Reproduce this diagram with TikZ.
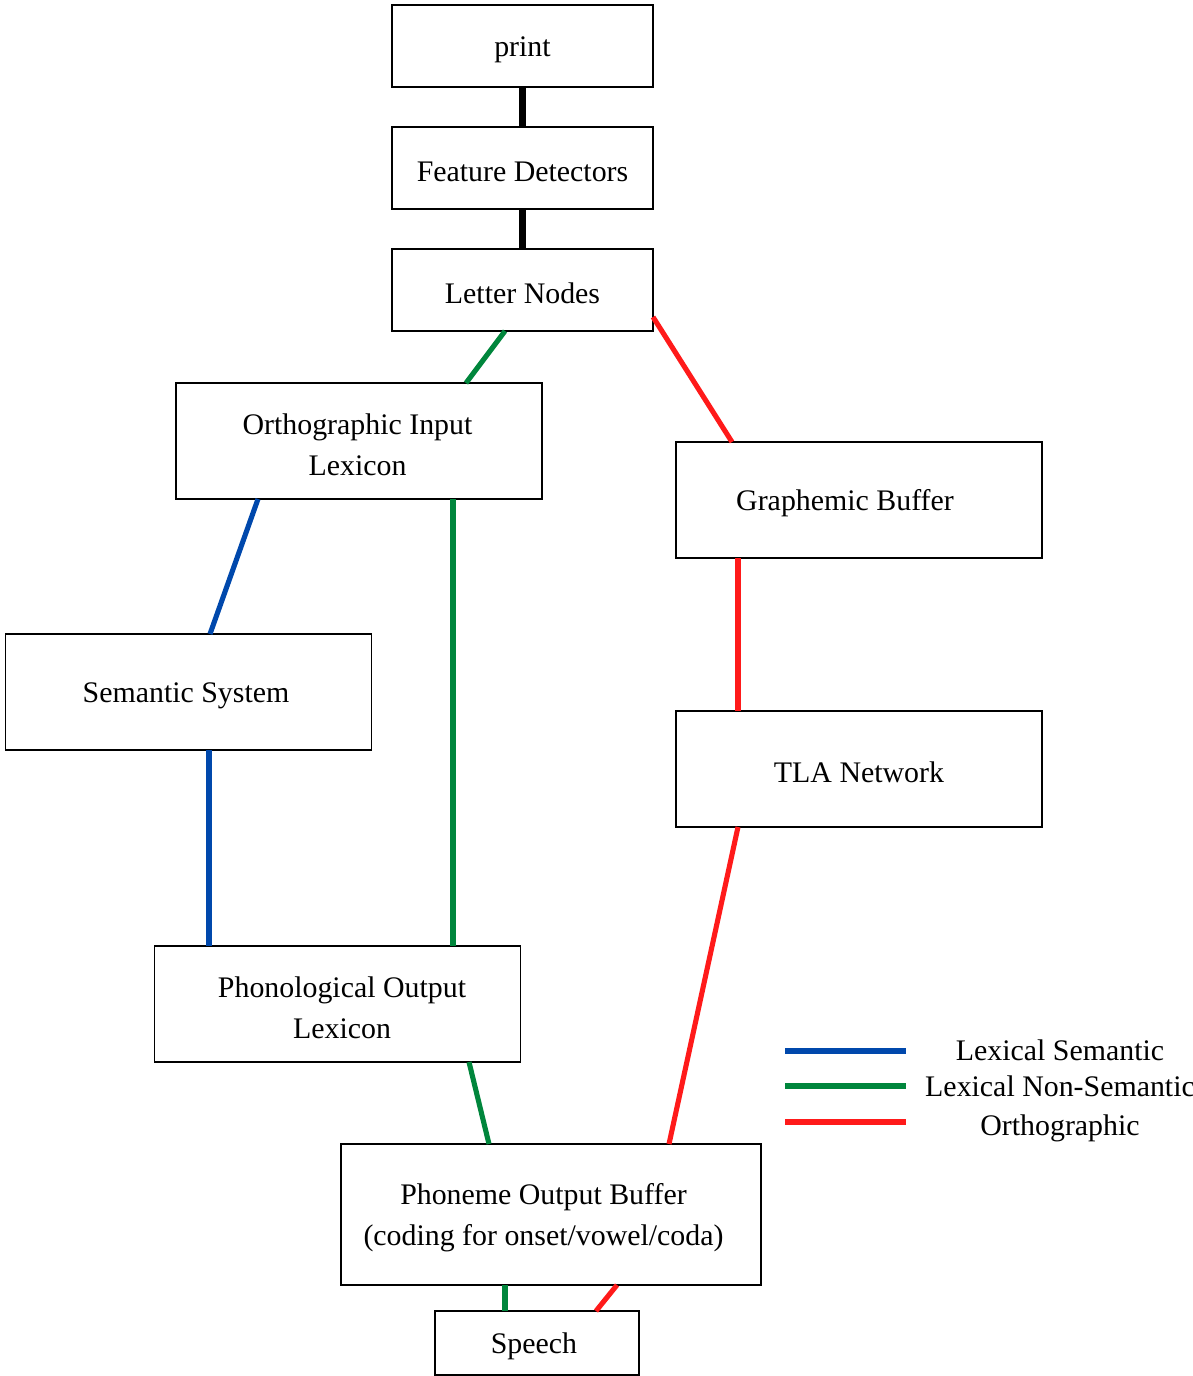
\documentclass[tikz,border=0pt]{standalone}
\usepackage{fontspec}
\setmainfont{Liberation Serif}
\begin{document}
\begin{tikzpicture}[x=0.02cm,y=-0.02cm,
  box/.style={draw=black,line width=1.1pt,fill=white,inner sep=0pt,outer sep=0pt},
  small/.style={box,minimum width=261*0.02cm,minimum height=82*0.02cm},
  big/.style={box,minimum width=366*0.02cm,minimum height=116*0.02cm},
  txt/.style={font=\fontsize{17}{23.2}\selectfont,align=center,inner sep=0pt,yshift=-0.07cm},
  feed/.style={line width=4pt,black},
  lexsem/.style={line width=2.9pt,color=semblue},
  lexnon/.style={line width=2.9pt,color=nongreen},
  ortho/.style={line width=2.9pt,color=orthred},
  key/.style={font=\fontsize{17}{23.2}\selectfont,inner sep=0pt,anchor=base}]
\definecolor{semblue}{RGB}{0,72,172}
\definecolor{nongreen}{RGB}{0,134,60}
\definecolor{orthred}{RGB}{255,26,26}

\useasboundingbox (0,0) rectangle (1193,1376);
\clip (0,0) rectangle (1193,1376);

% boxes, each with its caption
\node[small,label={[txt]center:print}] (print) at (522.5,46) {};
\node[small,label={[txt]center:Feature Detectors}] (feat) at (522.5,168) {};
\node[small,label={[txt]center:Letter Nodes}] (letter) at (522.5,290) {};
\node[big,label={[txt,xshift=-0.03cm]center:Orthographic Input\\Lexicon}] (oil) at (359,441) {};
\node[big,label={[txt,xshift=-0.28cm]center:Graphemic Buffer}] (gb) at (859,500) {};
\node[big,label={[txt,xshift=-0.05cm]center:Semantic System}] (sem) at (188.5,692) {};
\node[big,label={[txt]center:TLA Network}] (tla) at (859,769) {};
\node[big,label={[txt,xshift=0.09cm]center:Phonological Output\\Lexicon}] (pol) at (337.5,1004) {};
\node[box,minimum width=420*0.02cm,minimum height=141*0.02cm,
      label={[txt,xshift=-0.15cm]center:Phoneme Output Buffer\\(coding for onset/vowel/coda)}]
      (pob) at (551,1214.5) {};
\node[box,minimum width=204*0.02cm,minimum height=64*0.02cm,
      label={[txt,xshift=-0.06cm]center:Speech}] (speech) at (537,1343) {};

% pathways
\draw[feed] (print.south) -- (feat.north);
\draw[feed] (feat.south) -- (letter.north);

\draw[lexnon] (letter.south -| 505,0) -- (oil.north -| 466,0);
\draw[lexnon] (oil.south -| 453,0) -- (pol.north -| 453,0);
\draw[lexnon] (pol.south -| 469,0) -- (pob.north -| 489,0);
\draw[lexnon] (pob.south -| 505,0) -- (speech.north -| 505,0);

\draw[lexsem] (oil.south -| 258,0) -- (sem.north -| 210,0);
\draw[lexsem] (sem.south -| 209,0) -- (pol.north -| 209,0);

\draw[ortho] (letter.east |- 0,317) -- (gb.north -| 732,0);
\draw[ortho] (gb.south -| 738,0) -- (tla.north -| 738,0);
\draw[ortho] (tla.south -| 738,0) -- (pob.north -| 669,0);
\draw[ortho] (pob.south -| 617,0) -- (speech.north -| 596,0);

% key
\coordinate (k1a) at (785,1051); \coordinate (k1b) at (906,1051);
\coordinate (k2a) at (785,1086); \coordinate (k2b) at (906,1086);
\coordinate (k3a) at (785,1122); \coordinate (k3b) at (906,1122);
\draw[lexsem] (k1a) -- (k1b);
\draw[lexnon] (k2a) -- (k2b);
\draw[ortho]  (k3a) -- (k3b);
\node[key] (t1) at (1060,1060) {Lexical Semantic};
\node[key] (t2) at (1060,1096) {Lexical Non-Semantic};
\node[key] (t3) at (1060,1135) {Orthographic};
\end{tikzpicture}
\end{document}
